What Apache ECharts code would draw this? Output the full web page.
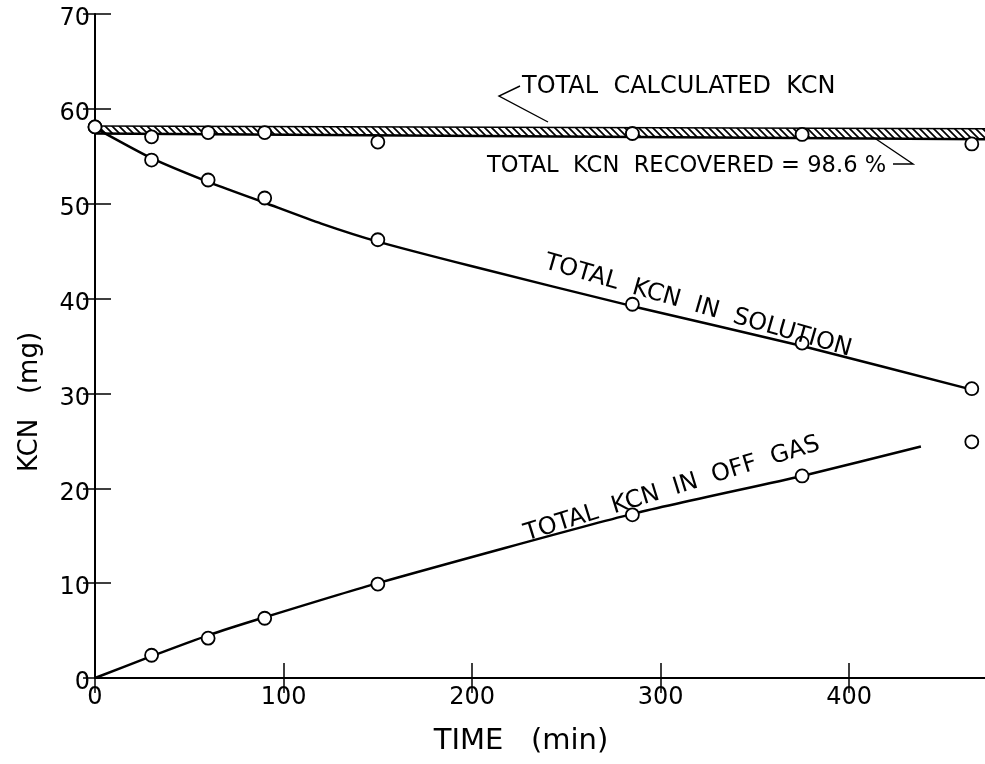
<!DOCTYPE html>
<html>
<head>
<meta charset="utf-8">
<script src="https://cdn.jsdelivr.net/npm/echarts@6/dist/echarts.min.js"></script>
<style>
html,body{margin:0;padding:0;background:#fff;}
#chart{width:985px;height:764px;}
</style>
</head>
<body>
<div id="chart"></div>
<script>
// ---- data ----
const timeObs = [0, 30, 60, 90, 150, 285, 375, 465];
const recoveredObs = [58.1, 57.05, 57.5, 57.5, 56.5, 57.4, 57.3, 56.3];
const solutionObs = [58.1, 54.6, 52.5, 50.6, 46.2, 39.4, 35.3, 30.5];
const offGasTime = [30, 60, 90, 150, 285, 375, 465];
const offGasObs = [2.4, 4.2, 6.3, 9.9, 17.2, 21.3, 24.9];
const solutionCurveTime = [0, 30, 60, 90, 120, 150, 200, 285, 375, 465];
const solutionCurve = [58.0, 54.8, 52.3, 50.1, 47.9, 46.0, 43.4, 39.2, 35.0, 30.4];
const offGasCurveTime = [0, 30, 60, 90, 150, 285, 375, 438];
const offGasCurve = [0, 2.3, 4.5, 6.4, 10.0, 17.3, 21.3, 24.4];
const calcTime = [0, 472];
const calcTop = [58.2, 57.9];
const calcBottom = [57.4, 56.8];
const xTicks = [0, 100, 200, 300, 400];
const yTicks = [0, 10, 20, 30, 40, 50, 60, 70];

const FONT = '"DejaVu Sans", sans-serif';
const pair = (xs, ys) => xs.map((x, i) => [x, ys[i]]);

// hatch pattern for the calculated-KCN band
const pc = document.createElement('canvas');
pc.width = 7; pc.height = 7;
const g = pc.getContext('2d');
g.fillStyle = '#fff'; g.fillRect(0, 0, 7, 7);
g.strokeStyle = '#000'; g.lineWidth = 1.7;
g.beginPath();
g.moveTo(-1, -1); g.lineTo(8, 8);
g.moveTo(-1, 6); g.lineTo(1, 8);
g.moveTo(6, -1); g.lineTo(8, 1);
g.stroke();

const chart = echarts.init(document.getElementById('chart'), null, {renderer: 'canvas'});

function renderBand(params, api) {
  const top = calcTime.map((t, i) => api.coord([t, calcTop[i]]));
  const bot = calcTime.map((t, i) => api.coord([t, calcBottom[i]]));
  const poly = top.concat(bot.slice().reverse());
  return {
    type: 'group',
    children: [
      {type: 'polygon', shape: {points: poly}, style: {fill: {image: pc, repeat: 'repeat'}, stroke: null}},
      {type: 'polyline', shape: {points: top}, style: {stroke: '#000', lineWidth: 1.4, fill: null}},
      {type: 'polyline', shape: {points: bot}, style: {stroke: '#000', lineWidth: 2.4, fill: null}}
    ]
  };
}

const option = {
  backgroundColor: '#fff',
  animation: false,
  grid: {left: 95, right: 0, top: 14, bottom: 86, containLabel: false, outerBoundsMode: 'none'},
  xAxis: [
    {
      type: 'value', position: 'bottom', min: xTicks[0], max: 472, interval: 100,
      splitLine: {show: false},
      axisLine: {lineStyle: {color: '#000', width: 2}},
      axisTick: {inside: true, length: 15, customValues: xTicks, lineStyle: {color: '#000', width: 1.5}},
      axisLabel: {color: '#000', fontSize: 24, fontFamily: FONT, margin: 8, customValues: xTicks},
      name: 'TIME   (min)', nameLocation: 'middle', nameGap: 49,
      nameTextStyle: {color: '#000', fontSize: 29, fontFamily: FONT, padding: [0, 38, 0, 0]}
    },
    {
      type: 'value', position: 'top', min: xTicks[0], max: 472, interval: 100,
      splitLine: {show: false},
      axisLine: {lineStyle: {color: '#000', width: 1.2}},
      axisTick: {inside: true, length: 15, customValues: xTicks, lineStyle: {color: '#000', width: 1.5}},
      axisLabel: {show: false}
    }
  ],
  yAxis: [
    {
      type: 'value', position: 'left', min: yTicks[0], max: 70, interval: 10,
      splitLine: {show: false},
      axisLine: {lineStyle: {color: '#000', width: 2}},
      axisTick: {inside: true, length: 16, lineStyle: {color: '#000', width: 1.5}},
      axisLabel: {color: '#000', fontSize: 24, fontFamily: FONT, margin: 5, verticalAlign: 'top', lineHeight: 10},
      name: 'KCN   (mg)', nameLocation: 'middle', nameGap: 52, nameRotate: 90,
      nameTextStyle: {color: '#000', fontSize: 26, fontFamily: FONT, padding: [0, 112, 0, 0]}
    },
    {
      type: 'value', position: 'right', min: yTicks[0], max: 70, interval: 10,
      splitLine: {show: false},
      axisLine: {show: false},
      axisTick: {inside: true, length: 12, lineStyle: {color: '#000', width: 1.5}},
      axisLabel: {show: false}
    }
  ],
  series: [
    {
      name: 'Total calculated KCN', type: 'custom', renderItem: renderBand,
      data: [[calcTime[0], calcTop[0]]], z: 3, silent: true
    },
    {
      name: 'Total KCN in solution (curve)', type: 'line', smooth: 0.2, symbol: 'none',
      data: pair(solutionCurveTime, solutionCurve),
      lineStyle: {color: '#000', width: 2.5}, z: 4
    },
    {
      name: 'Total KCN in off gas (curve)', type: 'line', smooth: 0.2, symbol: 'none',
      data: pair(offGasCurveTime, offGasCurve),
      lineStyle: {color: '#000', width: 2.5}, z: 4
    },
    {
      name: 'Total KCN recovered', type: 'scatter', symbol: 'circle', symbolSize: 13,
      data: pair(timeObs, recoveredObs),
      itemStyle: {color: '#fff', borderColor: '#000', borderWidth: 1.8, opacity: 1}, z: 6
    },
    {
      name: 'Total KCN in solution', type: 'scatter', symbol: 'circle', symbolSize: 13,
      data: pair(timeObs, solutionObs),
      itemStyle: {color: '#fff', borderColor: '#000', borderWidth: 1.8, opacity: 1}, z: 6
    },
    {
      name: 'Total KCN in off gas', type: 'scatter', symbol: 'circle', symbolSize: 13,
      data: pair(offGasTime, offGasObs),
      itemStyle: {color: '#fff', borderColor: '#000', borderWidth: 1.8, opacity: 1}, z: 6
    }
  ],
  graphic: {
    elements: [
      {type: 'text', x: 522, y: 87, z: 10, style: {text: 'TOTAL  CALCULATED  KCN', fontSize: 24, fontFamily: FONT, fill: '#000', align: 'left', verticalAlign: 'middle'}},
      {type: 'polyline', z: 10, shape: {points: [[520, 86], [499, 96], [548, 122]]}, style: {stroke: '#000', lineWidth: 1.4, fill: null}},
      {type: 'text', x: 487, y: 166, z: 10, style: {text: 'TOTAL  KCN  RECOVERED = 98.6 %', fontSize: 22.6, fontFamily: FONT, fill: '#000', align: 'left', verticalAlign: 'middle'}},
      {type: 'polyline', z: 10, shape: {points: [[893, 164], [913, 164], [873, 137]]}, style: {stroke: '#000', lineWidth: 1.4, fill: null}},
      {type: 'text', x: 698, y: 306, z: 10, rotation: -0.28, style: {text: 'TOTAL  KCN  IN  SOLUTION', fontSize: 24, fontFamily: FONT, fill: '#000', align: 'center', verticalAlign: 'middle'}},
      {type: 'text', x: 672, y: 489, z: 10, rotation: 0.30, style: {text: 'TOTAL  KCN  IN  OFF  GAS', fontSize: 24, fontFamily: FONT, fill: '#000', align: 'center', verticalAlign: 'middle'}}
    ]
  }
};
chart.setOption(option);
</script>
</body>
</html>
